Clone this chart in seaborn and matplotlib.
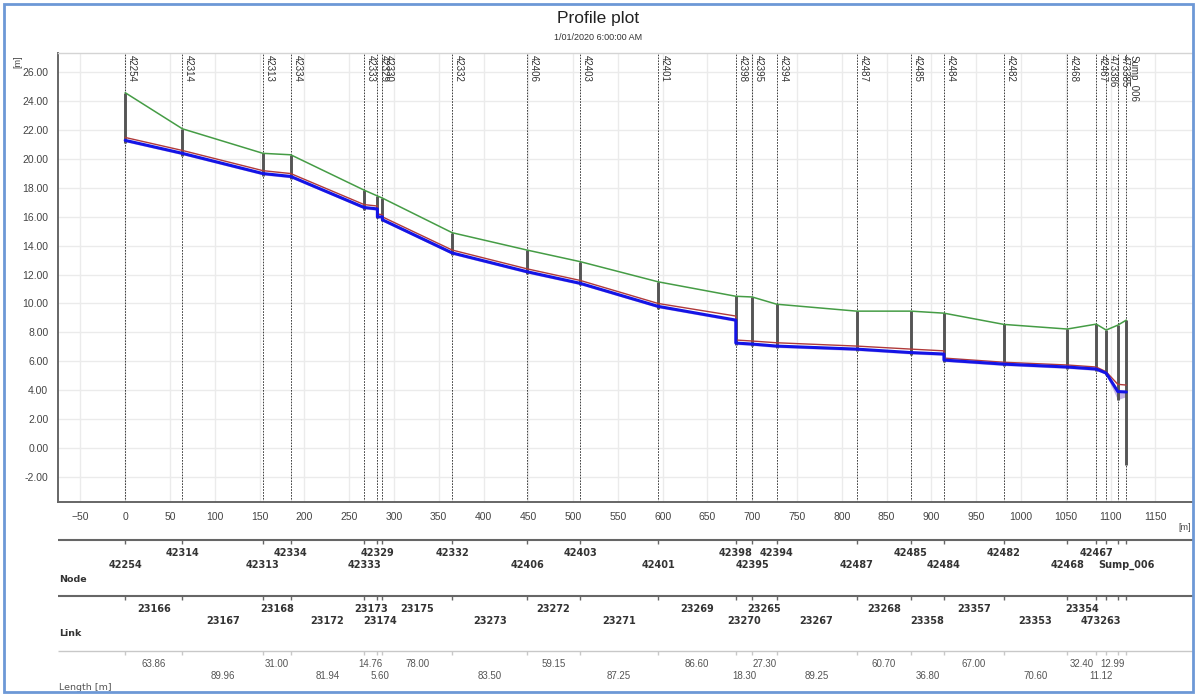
import numpy as np
import pandas as pd
import matplotlib
matplotlib.use('Agg')
import matplotlib.pyplot as plt
import seaborn as sns

# ---- data ----
node_names = ['42254', '42314', '42313', '42334', '42333', '42329', '42330', '42332',
              '42406', '42403', '42401', '42398', '42395', '42394', '42487', '42485',
              '42484', '42482', '42468', '42467', '473386', '473385', 'Sump_006']
# names printed in the Node row (some are hidden by overlap)
node_table = ['42254', '42314', '42313', '42334', '42333', '42329', '', '42332',
              '42406', '42403', '42401', '42398', '42395', '42394', '42487', '42485',
              '42484', '42482', '42468', '42467', '', '', 'Sump_006']
link_names = ['23166', '23167', '23168', '23172', '23173', '23174', '23175', '23273',
              '23272', '23271', '23269', '23270', '23265', '23267', '23268', '23358',
              '23357', '23353', '23354', '473263', '', '']
link_lengths = [63.86, 89.96, 31.00, 81.94, 14.76, 5.60, 78.00, 83.50, 59.15, 87.25,
                86.60, 18.30, 27.30, 89.25, 60.70, 36.80, 67.00, 70.60, 32.40, 11.12,
                12.99, 9.50]
length_text = ['63.86', '89.96', '31.00', '81.94', '14.76', '5.60', '78.00', '83.50',
               '59.15', '87.25', '86.60', '18.30', '27.30', '89.25', '60.70', '36.80',
               '67.00', '70.60', '32.40', '11.12', '12.99', '']

ground = [24.6, 22.1, 20.4, 20.3, 17.85, 17.45, 17.3, 14.9, 13.7, 12.9, 11.5, 10.5,
          10.45, 9.95, 9.47, 9.47, 9.33, 8.55, 8.23, 8.57, 8.16, 8.5, 8.85]
# water level at upstream / downstream end of each link
water_up = [21.3, 20.4, 19.0, 18.8, 16.65, 16.0, 15.8, 13.5, 12.2, 11.4, 9.8, 7.26,
            7.19, 7.05, 6.84, 6.6, 6.08, 5.8, 5.6, 5.46, 5.18, 3.9]
water_dn = [20.4, 19.0, 18.8, 16.65, 16.55, 16.0, 13.5, 12.2, 11.4, 9.8, 8.85, 7.19,
            7.05, 6.84, 6.6, 6.5, 5.8, 5.6, 5.46, 5.18, 3.9, 3.87]
crown_up = [21.5, 20.6, 19.2, 19.0, 16.85, 16.2, 16.0, 13.7, 12.4, 11.6, 10.0, 7.47,
            7.4, 7.28, 7.05, 6.84, 6.22, 5.93, 5.74, 5.6, 5.27, 4.4]
crown_dn = [20.6, 19.2, 19.0, 16.85, 16.75, 16.15, 13.7, 12.4, 11.6, 10.0, 9.13, 7.4,
            7.28, 7.05, 6.84, 6.72, 5.93, 5.74, 5.6, 5.27, 4.4, 4.35]
invert_up = [21.2, 20.3, 18.9, 18.7, 16.55, 15.9, 15.7, 13.4, 12.1, 11.3, 9.7, 7.16,
             7.09, 6.95, 6.74, 6.5, 5.98, 5.7, 5.5, 5.36, 5.05, 3.35]
invert_dn = [20.3, 18.9, 18.7, 16.55, 16.45, 15.9, 13.4, 12.1, 11.3, 9.7, 8.75, 7.09,
             6.95, 6.74, 6.5, 6.4, 5.7, 5.5, 5.36, 5.08, 3.3, 3.55]
manhole_floor = [21.15, 20.25, 18.85, 18.65, 16.5, 15.9, 15.7, 13.35, 12.05, 11.25, 9.65,
                 7.1, 7.05, 6.9, 6.7, 6.45, 5.95, 5.65, 5.45, 5.3, 5.05, 3.3, -1.2]

chain = np.concatenate([[0.0], np.cumsum(link_lengths)])

W, H = 1197, 695
fig = plt.figure(figsize=(W / 100, H / 100), dpi=100)
sns.set_style('white')
plt.rcParams['font.family'] = ['Liberation Sans Narrow', 'Liberation Sans', 'DejaVu Sans']

def fx(px):
    return px / W

def fy(py):
    return 1 - py / H

# window border
fig.patches.append(plt.Rectangle((fx(4), fy(692)), fx(1193) - fx(4), fy(4) - fy(692),
                                 transform=fig.transFigure, fill=False,
                                 edgecolor='#6d98d6', lw=2.0))

fig.text(0.5, fy(18), 'Profile plot', ha='center', va='center', fontsize=12.5,
         color='#222222', family=['Liberation Sans', 'DejaVu Sans'])
fig.text(0.5, fy(38), '1/01/2020 6:00:00 AM', ha='center', va='center', fontsize=6.5,
         color='#333333')

L, R, T, B = 58, 1193, 53, 502
ax = fig.add_axes([fx(L), fy(B), fx(R) - fx(L), fy(T) - fy(B)])
xlim = (-75, 1192)
ax.set_xlim(xlim)
ax.set_ylim(-3.75, 27.35)

ax.set_xticks(np.arange(-50, 1151, 50))
ax.set_xticks(np.arange(-70, 1191, 10), minor=True)
ax.set_yticks(np.arange(-2, 27, 2))
ax.set_yticks(np.arange(-3.5, 27.3, 0.5), minor=True)
ax.set_yticklabels([f'{v:.2f}' for v in np.arange(-2, 27, 2)])
ax.grid(True, which='major', color='#ebebeb', lw=1.0)
ax.set_axisbelow(True)
ax.tick_params(which='major', direction='out', length=4, width=0.8, color='#555555',
               labelsize=7.5, labelcolor='#444444', pad=3)
ax.tick_params(which='minor', direction='out', length=2, width=0.7, color='#555555')
for s in ['left', 'bottom']:
    ax.spines[s].set_color('#666666')
    ax.spines[s].set_linewidth(1.4)
for s in ['top', 'right']:
    ax.spines[s].set_color('#d4d4d4')
    ax.spines[s].set_linewidth(1.0)
fig.text(fx(18), fy(62), '[m]', rotation=90, ha='center', va='center', fontsize=6.5,
         color='#444444')
fig.text(fx(1185), fy(528), '[m]', ha='center', va='center', fontsize=6.5, color='#444444')

# node lines and labels
ax.vlines(chain, -3.75, 27.35, colors='#222222', linestyles=(0, (2, 1.5)), lw=0.6, zorder=2)
for x, name in zip(chain, node_names):
    ax.text(x + 2, 27.2, name, rotation=-90, ha='left', va='top', fontsize=7,
            color='#333333', zorder=6)

# pipe band (invert to water level)
for i in range(len(link_lengths)):
    ax.fill_between([chain[i], chain[i + 1]], [invert_up[i], invert_dn[i]],
                    [water_up[i], water_dn[i]], color='#9a80d8', alpha=0.6, lw=0, zorder=3)

# manholes
ax.vlines(chain, manhole_floor, ground, colors='#555555', lw=2.1, zorder=4)

# long table of profile lines
xs = np.repeat(chain, 2)[1:-1]
profile = pd.DataFrame({
    'x': np.concatenate([chain, xs, xs]),
    'level': np.concatenate([ground,
                             np.ravel(np.column_stack([crown_up, crown_dn])),
                             np.ravel(np.column_stack([water_up, water_dn]))]),
    'line': ['Ground'] * len(chain) + ['Crown'] * len(xs) + ['Water'] * len(xs),
})
styles = {'Ground': ('#459c45', 1.1), 'Crown': ('#b03a3a', 1.0), 'Water': ('#1414e6', 2.2)}
for name, (col, lw) in styles.items():
    sns.lineplot(data=profile[profile['line'] == name], x='x', y='level', sort=False,
                 estimator=None, color=col, lw=lw, ax=ax, legend=False, zorder=5)
ax.set_xlabel('')
ax.set_ylabel('')

# tables under the plot
axt = fig.add_axes([fx(L), 0, fx(R) - fx(L), fy(530)])
axt.set_xlim(xlim)
axt.set_ylim(H, 530)
axt.axis('off')

mids = (chain[:-1] + chain[1:]) / 2
rows = [
    # line y, line colour, labels, positions, weight, title, title y, first row odd?
    (540, '#666666', node_table, chain, 'bold', 'Node', 579, True),
    (596, '#666666', link_names, mids, 'bold', 'Link', 634, False),
    (651, '#c8c8c8', length_text, mids, 'normal', 'Length [m]', 688, False),
]
for ly, lc, labels, pos, weight, title, ty, odd_top in rows:
    axt.plot(xlim, [ly, ly], color=lc, lw=1.5 if weight == 'bold' else 1.0,
             solid_capstyle='butt')
    axt.vlines(chain, ly, ly + 4, colors=lc, lw=1.0)
    tcol = '#333333' if weight == 'bold' else '#555555'
    for k, (p, lab) in enumerate(zip(pos, labels)):
        top = (k % 2 == 1) if odd_top else (k % 2 == 0)
        yy = ly + 13 if top else ly + 25
        axt.text(p, yy, lab, ha='center', va='center', fontsize=7, fontweight=weight,
                 color=tcol, family=['DejaVu Sans'] if weight == 'bold' else None)
    axt.text(xlim[0] + 1, ty, title, ha='left', va='center', fontsize=6.8,
             fontweight=weight, color=tcol, family=['DejaVu Sans'])

fig.savefig('out.png', dpi=100)
